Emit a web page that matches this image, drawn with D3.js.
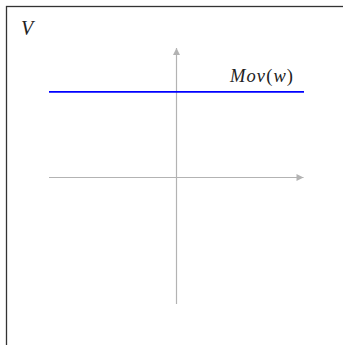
<!DOCTYPE html>
<html>
<head>
<meta charset="utf-8">
<script src="https://cdn.jsdelivr.net/npm/d3@7"></script>
<style>
  html, body { margin: 0; padding: 0; background: #fff; }
  svg { display: block; }
</style>
</head>
<body>
<script>
// Constant value function plotted over the axis range
const xDomain = [-1.5, 1.5];
const yDomain = [-1.5, 1.5];
const lineXs = [-1.5, 1.5];
const lineValues = [1, 1];
const axisLabel = "V";
const seriesLabel = ["Mov", "(", "w", ")"];

const W = 343, H = 345;
const svg = d3.select("body").append("svg").attr("width", W).attr("height", H);

// frame
svg.append("rect")
  .attr("x", 6.5).attr("y", 6.5)
  .attr("width", 345).attr("height", 345)
  .attr("fill", "none").attr("stroke", "#333").attr("stroke-width", 1.3);

const x = d3.scaleLinear().domain(xDomain).range([49, 304]);
const y = d3.scaleLinear().domain(yDomain).range([306, 49]);

const defs = svg.append("defs");
defs.append("marker")
  .attr("id", "arr")
  .attr("viewBox", "0 0 10 10")
  .attr("refX", 10).attr("refY", 5)
  .attr("markerUnits", "userSpaceOnUse")
  .attr("markerWidth", 8).attr("markerHeight", 7)
  .attr("orient", "auto")
  .append("path").attr("d", "M0,0 L10,5 L0,10 Z").attr("fill", "#b3b3b3");

const axisColor = "#b3b3b3";
// horizontal axis
svg.append("line")
  .attr("x1", x(xDomain[0])).attr("x2", x(xDomain[1]) - 0.5)
  .attr("y1", y(0)).attr("y2", y(0))
  .attr("stroke", axisColor).attr("stroke-width", 1.2)
  .attr("marker-end", "url(#arr)");
// vertical axis
svg.append("line")
  .attr("x1", x(0)).attr("x2", x(0))
  .attr("y1", y(yDomain[0]) - 2).attr("y2", y(yDomain[1]) - 1)
  .attr("stroke", axisColor).attr("stroke-width", 1.2)
  .attr("marker-end", "url(#arr)");

// series line
const pts = lineXs.map((v, i) => [v, lineValues[i]]);
svg.append("path")
  .datum(pts)
  .attr("d", d3.line().x(d => x(d[0])).y(d => y(d[1])))
  .attr("fill", "none").attr("stroke", "#0000ff").attr("stroke-width", 1.6);

const font = "'Liberation Serif', 'Times New Roman', serif";
svg.append("text")
  .attr("x", 21).attr("y", 35)
  .attr("font-family", font).attr("font-style", "italic").attr("font-size", 20)
  .attr("fill", "#222")
  .text(axisLabel);

const lbl = svg.append("text")
  .attr("x", 230).attr("y", 81.5)
  .attr("textLength", 63).attr("lengthAdjust", "spacing")
  .attr("font-family", font).attr("font-size", 18.5).attr("fill", "#222");
seriesLabel.forEach(s => {
  lbl.append("tspan")
    .attr("font-style", /[()]/.test(s) ? "normal" : "italic")
    .text(s);
});
</script>
</body>
</html>
